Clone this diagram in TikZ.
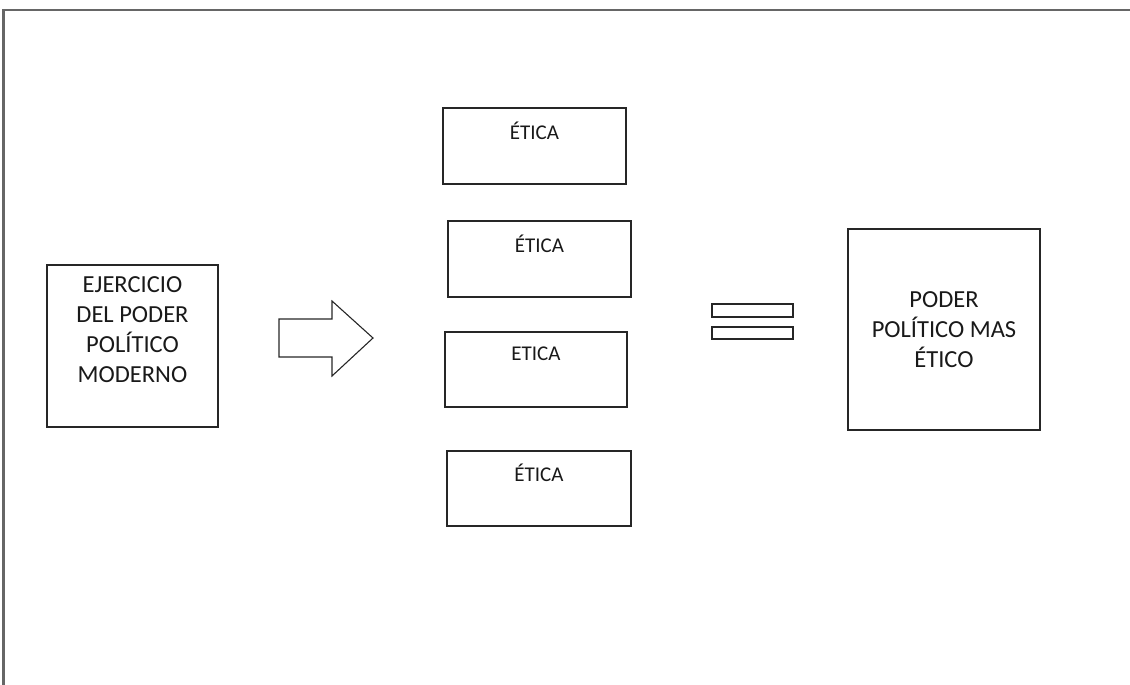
\documentclass[tikz,border=0pt]{standalone}
\usepackage{fontspec}
\setmainfont{Carlito}
\begin{document}
\begin{tikzpicture}[x=1pt,y=-1pt,
  box/.style={draw=black!85,line width=1.3pt,inner sep=0pt},
  label/.style={font=\fontsize{21}{29.7}\selectfont,align=center,inner sep=0pt,text=black!90},
  biglabel/.style={label,font=\fontsize{24.5}{29.7}\selectfont},
  frameline/.style={draw=black!60,line width=2.2pt}]
\useasboundingbox (0,0) rectangle (1130,685);
% page frame: top and left edges only
\coordinate (ftl) at (3.5,10);
\coordinate (ftr) at (1130,10);
\coordinate (fbl) at (3.5,685);
\draw[frameline] (ftr) -- (ftl) -- (fbl);

% left box (multi-line labels are placed by the baseline of their last line)
\draw[box] (47,265) rectangle (218,427);
\node[biglabel,anchor=base] (left) at (132.5,382) {EJERCICIO\\DEL PODER\\POLÍTICO\\MODERNO};

% block arrow
\draw[box,line width=1.1pt,line join=miter] (279,319) -- (332,319) -- (332,301) -- (373,338) -- (332,376) -- (332,357) -- (279,357) -- cycle;

% ethics boxes
\draw[box] (443,108) rectangle (626,184);
\node[label,anchor=base] (e1) at (534.5,139) {ÉTICA};
\draw[box] (448,221) rectangle (631,297);
\node[label,anchor=base] (e2) at (539.5,252) {ÉTICA};
\draw[box] (445,332) rectangle (627,407);
\node[label,anchor=base] (e3) at (536,360) {ETICA};
\draw[box] (447,451) rectangle (631,526);
\node[label,anchor=base] (e4) at (539,481) {ÉTICA};

% equals sign
\draw[box,line width=1.1pt] (712,304) rectangle (793,317);
\draw[box,line width=1.1pt] (712,327) rectangle (793,339);

% right box
\draw[box] (848,229) rectangle (1040,430);
\node[biglabel,anchor=base] (right) at (944,367) {PODER\\POLÍTICO MAS\\ÉTICO};
\end{tikzpicture}
\end{document}
